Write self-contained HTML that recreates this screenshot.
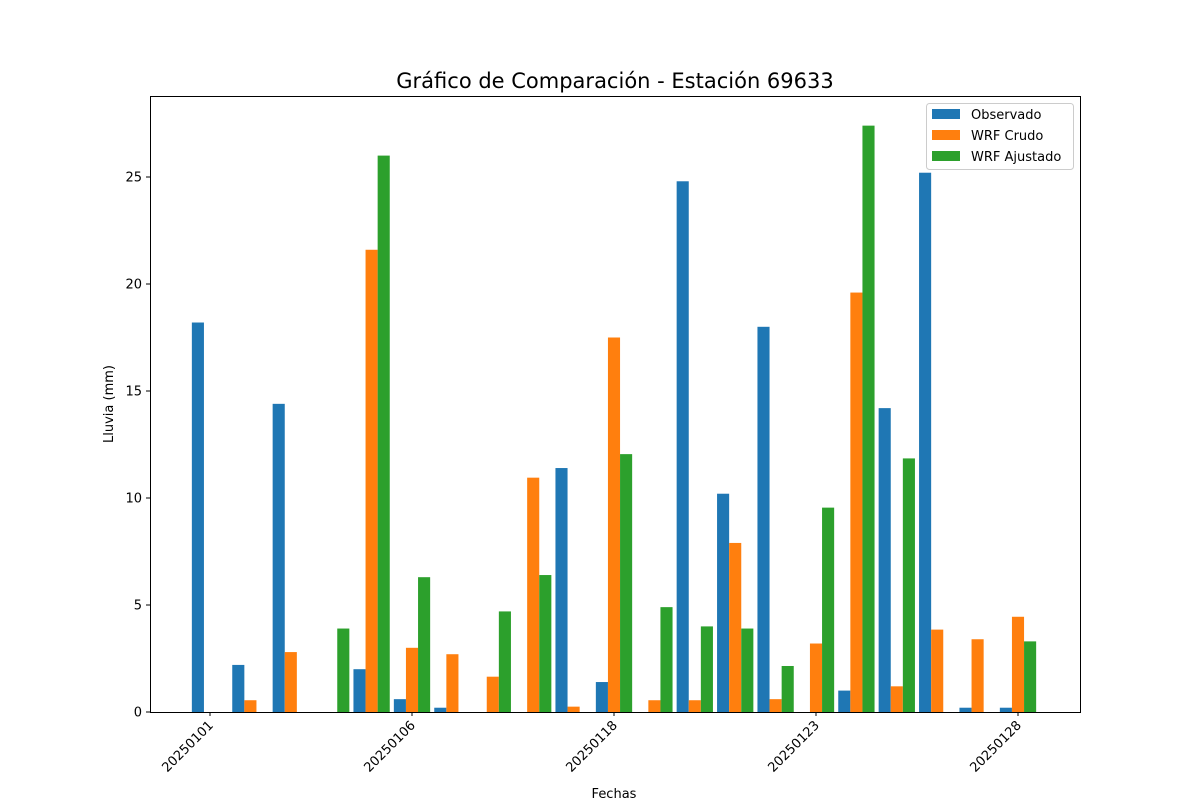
<!DOCTYPE html>
<html><head><meta charset="utf-8"><style>
body{margin:0;background:#fff;font-family:"Liberation Sans","DejaVu Sans",sans-serif;}
svg text{font-family:"DejaVu Sans","Liberation Sans",sans-serif;}
</style></head><body>
<svg id="chart" width="1200" height="800" xmlns="http://www.w3.org/2000/svg">
<rect width="1200" height="800" fill="#fff"/>
<text x="615" y="88" font-size="21" text-anchor="middle">Gráfico de Comparación - Estación 69633</text>
<g id="bars"></g>
<g id="axes"></g>
<rect x="150.5" y="96.5" width="930" height="616" fill="none" stroke="#000" stroke-width="1"/>
<text x="614" y="798" font-size="13" text-anchor="middle">Fechas</text>
<text x="113" y="404" font-size="13" text-anchor="middle" transform="rotate(-90 113 404)">Lluvia (mm)</text>
<g>
<rect x="926.5" y="103.5" width="147" height="66" fill="#fff" stroke="#ccc" rx="3"/>
<g><rect x="932" y="109" width="28" height="10" fill="#1f77b4"/><text x="971" y="119" font-size="13">Observado</text></g>
<g><rect x="932" y="130" width="28" height="10" fill="#ff7f0e"/><text x="971" y="140" font-size="13">WRF Crudo</text></g>
<g><rect x="932" y="151" width="28" height="10" fill="#2ca02c"/><text x="971" y="161" font-size="13">WRF Ajustado</text></g>
</g>
</svg>
<script>
const categories=["20250101","20250102","20250103","20250104","20250105","20250106","20250107","20250108","20250109","20250110","20250118","20250119","20250120","20250121","20250122","20250123","20250124","20250125","20250126","20250127","20250128"];
const observado=[18.2,2.2,14.4,0,2.0,0.6,0.2,0,0,11.4,1.4,0,24.8,10.2,18.0,0,1.0,14.2,25.2,0.2,0.2];
const wrfCrudo=[0,0.55,2.8,0,21.6,3.0,2.7,1.65,10.95,0.25,17.5,0.55,0.55,7.9,0.6,3.2,19.6,1.2,3.85,3.4,4.45];
const wrfAjustado=[0,0,0,3.9,26.0,6.3,0,4.7,6.4,0,12.05,4.9,4.0,3.9,2.15,9.55,27.4,11.85,0,0,3.3];
const yTicks=[0,5,10,15,20,25];
const tickEvery=5;
const NS="http://www.w3.org/2000/svg";
const x0=210,step=40.4,bw=12.1;
function xPos(i){return x0+i*step;}
function yPos(v){return 712-v*21.4;}
const bars=document.getElementById('bars'),axes=document.getElementById('axes');
const series=[[observado,"#1f77b4","observado"],[wrfCrudo,"#ff7f0e","wrf-crudo"],[wrfAjustado,"#2ca02c","wrf-ajustado"]];
series.forEach((s,k)=>{s[0].forEach((v,i)=>{
 const r=document.createElementNS(NS,'rect');
 const cx=xPos(i)+(k-1)*bw;
 r.setAttribute('x',cx-bw/2);r.setAttribute('width',bw);
 r.setAttribute('y',yPos(v));r.setAttribute('height',712-yPos(v));
 r.setAttribute('fill',s[1]);
 
 
 bars.appendChild(r);});});
yTicks.forEach(t=>{
 const y=yPos(t);
 const l=document.createElementNS(NS,'line');
 l.setAttribute('x1',146);l.setAttribute('x2',150);l.setAttribute('y1',y);l.setAttribute('y2',y);l.setAttribute('stroke','#000');
 
 
 axes.appendChild(l);
 const tx=document.createElementNS(NS,'text');
 tx.setAttribute('x',142);tx.setAttribute('y',y+4.5);tx.setAttribute('font-size','13');tx.setAttribute('text-anchor','end');
 tx.textContent=t;
 
 
 axes.appendChild(tx);});
categories.forEach((c,i)=>{
 if(i%tickEvery)return;
 const x=xPos(i);
 const l=document.createElementNS(NS,'line');
 l.setAttribute('x1',x);l.setAttribute('x2',x);l.setAttribute('y1',712);l.setAttribute('y2',716);l.setAttribute('stroke','#000');
 
 
 axes.appendChild(l);
 const tx=document.createElementNS(NS,'text');
 tx.setAttribute('x',x+4);tx.setAttribute('y',726);tx.setAttribute('font-size','13');tx.setAttribute('text-anchor','end');
 tx.setAttribute('transform','rotate(-45 '+(x+4)+' 726)');
 tx.textContent=c;
 
 
 axes.appendChild(tx);});
</script>
</body></html>
